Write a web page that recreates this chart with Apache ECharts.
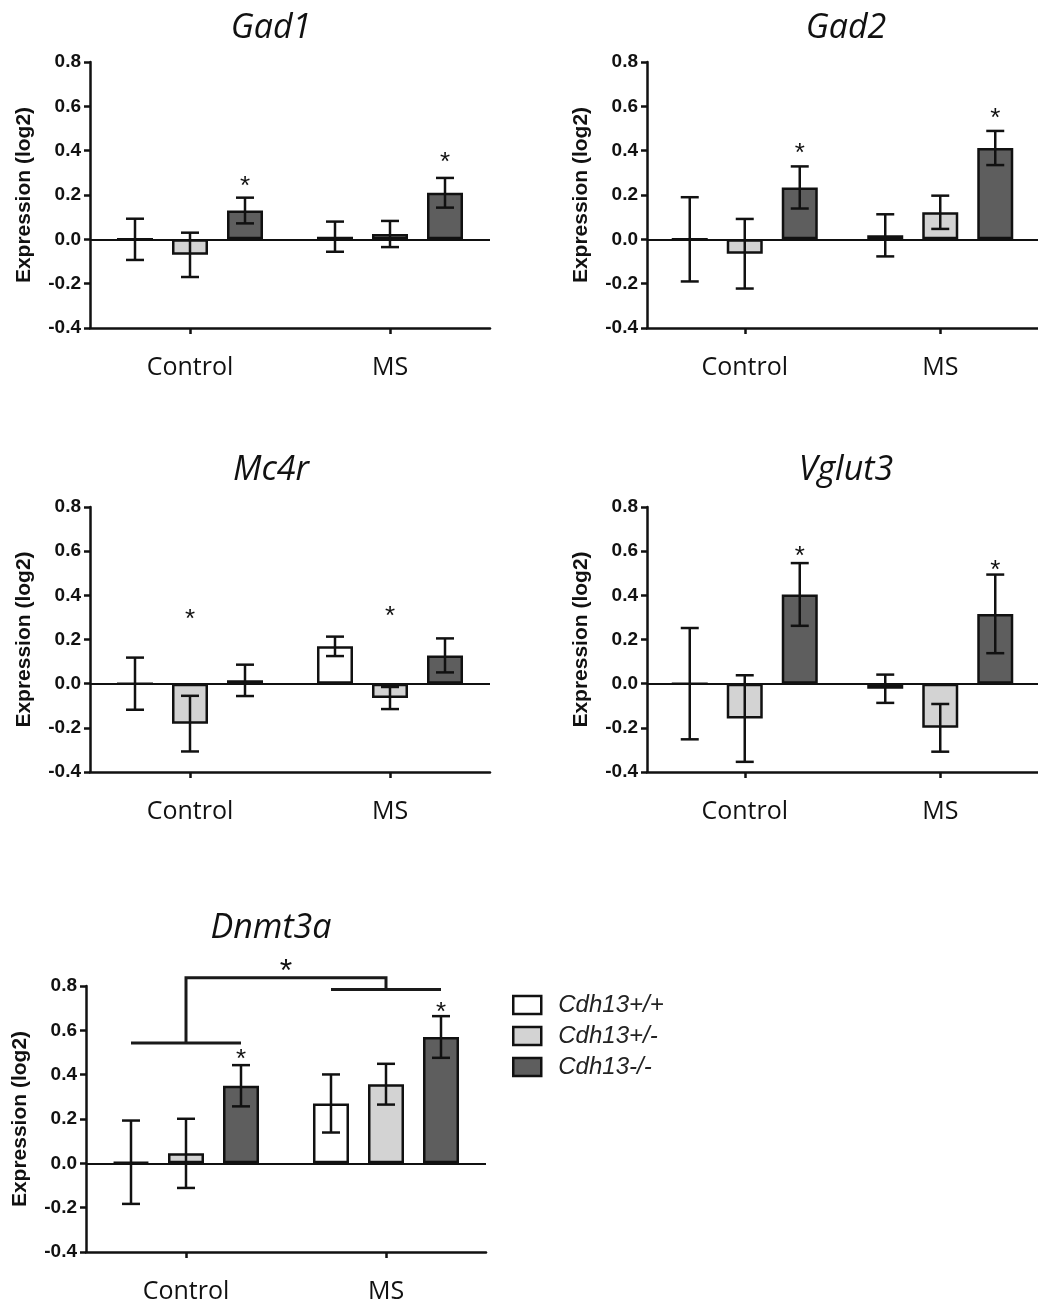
<!DOCTYPE html>
<html>
<head>
<meta charset="utf-8">
<script src="https://cdn.jsdelivr.net/npm/echarts@6/dist/echarts.min.js"></script>
<style>
  html, body { margin: 0; padding: 0; background: #fff; }
  #chart { width: 1038px; height: 1311px; }
</style>
</head>
<body>
<div id="chart"></div>
<script>
// ---- data ----
const groups = ['Control', 'MS'];
const genotypes = ['Cdh13+/+', 'Cdh13+/-', 'Cdh13-/-'];
const yTickValues = [-0.4, -0.2, 0.0, 0.2, 0.4, 0.6, 0.8];

// mean[genotype][group], sem[genotype][group]; stars: [genotype, group, y]
const gad1Mean = [[0.00, 0.012], [-0.07, 0.024], [0.13, 0.21]];
const gad1Sem = [[0.093, 0.068], [0.10, 0.059], [0.058, 0.067]];
const gad1Stars = [[2, 0, 0.264], [2, 1, 0.371]];

const gad2Mean = [[0.00, 0.018], [-0.065, 0.122], [0.234, 0.412]];
const gad2Sem = [[0.19, 0.095], [0.157, 0.075], [0.095, 0.077]];
const gad2Stars = [[2, 0, 0.414], [2, 1, 0.569]];

const mc4rMean = [[0.00, 0.169], [-0.181, -0.065], [0.015, 0.128]];
const mc4rSem = [[0.118, 0.044], [0.126, 0.05], [0.071, 0.077]];
const mc4rStars = [[1, 0, 0.317], [1, 1, 0.332]];

const vglut3Mean = [[0.00, -0.023], [-0.158, -0.20], [0.404, 0.316]];
const vglut3Sem = [[0.252, 0.064], [0.196, 0.108], [0.142, 0.178]];
const vglut3Stars = [[2, 0, 0.602], [2, 1, 0.538]];

const dnmt3aMean = [[0.005, 0.27], [0.045, 0.357], [0.35, 0.57]];
const dnmt3aSem = [[0.188, 0.131], [0.156, 0.092], [0.093, 0.094]];
const dnmt3aStars = [[2, 0, 0.492], [2, 1, 0.708]];
// Control-vs-MS bracket: [Control level, top level, MS level, star level]
const dnmt3aBracket = [0.543, 0.837, 0.784, 0.892];

// ---- styling ----
const FILLS = ['#ffffff', '#d3d3d3', '#5e5e5e'];
const INK = '#111111';
const BAR_W = 36;
const BAR_GAP = 19;
const CAP_W = 18;
const LINE_W = 2.5;
const SANS = 'Liberation Sans, Arial, sans-serif';
const HUMANIST = 'Open Sans, sans-serif';

const panels = [
  { name: 'Gad1',   mean: gad1Mean,   sem: gad1Sem,   stars: gad1Stars,   left: 90,  top: 62,  height: 266, titleX: 266, titleTop: 6 },
  { name: 'Gad2',   mean: gad2Mean,   sem: gad2Sem,   stars: gad2Stars,   left: 647, top: 62,  height: 266, titleX: 841, titleTop: 6 },
  { name: 'Mc4r',   mean: mc4rMean,   sem: mc4rSem,   stars: mc4rStars,   left: 90,  top: 507, height: 265, titleX: 266, titleTop: 448 },
  { name: 'Vglut3', mean: vglut3Mean, sem: vglut3Sem, stars: vglut3Stars, left: 647, top: 507, height: 265, titleX: 841, titleTop: 448 },
  { name: 'Dnmt3a', mean: dnmt3aMean, sem: dnmt3aSem, stars: dnmt3aStars, left: 86,  top: 986, height: 266, titleX: 266, titleTop: 906 }
];

function barOffset(k) { return (k - 1) * (BAR_W + BAR_GAP); }

function renderErrorBar(params, api) {
  const g = api.value(0), k = api.value(1), m = api.value(2), e = api.value(3);
  const hi = api.coord([g, m + e]);
  const lo = api.coord([g, m - e]);
  const x = hi[0] + barOffset(k);
  const h = CAP_W / 2;
  const style = { stroke: INK, lineWidth: LINE_W };
  return {
    type: 'group',
    children: [
      { type: 'line', shape: { x1: x, y1: hi[1], x2: x, y2: lo[1] }, style },
      { type: 'line', shape: { x1: x - h, y1: hi[1], x2: x + h, y2: hi[1] }, style },
      { type: 'line', shape: { x1: x - h, y1: lo[1], x2: x + h, y2: lo[1] }, style }
    ]
  };
}

function renderStar(params, api) {
  const k = api.value(0), g = api.value(1), y = api.value(2);
  const p = api.coord([g, y]);
  return {
    type: 'text',
    style: {
      text: '*', x: p[0] + barOffset(k), y: p[1] + 6,
      fill: INK, font: '26px ' + SANS, align: 'center', verticalAlign: 'middle'
    }
  };
}

function renderBracket(params, api) {
  const ctrlLow = api.coord([0, api.value(0)]);
  const ctrlTop = api.coord([0, api.value(1)]);
  const msTop = api.coord([1, api.value(1)]);
  const msLow = api.coord([1, api.value(2)]);
  const starY = api.coord([0, api.value(3)])[1];
  const d = BAR_W + BAR_GAP;
  const style = { stroke: '#1a1a1a', lineWidth: 3, fill: null };
  return {
    type: 'group',
    children: [
      { type: 'polyline', shape: { points: [[ctrlLow[0] - d, ctrlLow[1]], [ctrlLow[0] + d, ctrlLow[1]]] }, style },
      { type: 'polyline', shape: { points: [[ctrlLow[0], ctrlLow[1]], [ctrlTop[0], ctrlTop[1]], [msTop[0], msTop[1]], [msLow[0], msLow[1]]] }, style },
      { type: 'polyline', shape: { points: [[msLow[0] - d, msLow[1]], [msLow[0] + d, msLow[1]]] }, style },
      { type: 'text', style: { text: '*', x: (ctrlTop[0] + msTop[0]) / 2, y: starY + 7, fill: INK,
        font: '32px ' + SANS, align: 'center', verticalAlign: 'middle' } }
    ]
  };
}

const grid = [], xAxis = [], yAxis = [], title = [], series = [];

panels.forEach((p, i) => {
  grid.push({ left: p.left, top: p.top, width: 400, height: p.height, containLabel: false });
  title.push({
    text: p.name, left: p.titleX, top: p.titleTop, textAlign: 'center',
    textStyle: { fontFamily: HUMANIST, fontStyle: 'italic', fontWeight: 'normal', fontSize: 34, color: INK }
  });
  xAxis.push({
    type: 'category', gridIndex: i, data: groups, boundaryGap: true,
    axisLine: { show: true, onZero: false, lineStyle: { color: INK, width: LINE_W } },
    axisTick: { show: true, alignWithLabel: true, length: 6, lineStyle: { color: INK, width: LINE_W } },
    axisLabel: { interval: 0, margin: 27, fontFamily: HUMANIST, fontSize: 25, color: INK },
    splitLine: { show: false }
  });
  yAxis.push({
    type: 'value', gridIndex: i,
    min: yTickValues[0], max: yTickValues[yTickValues.length - 1],
    interval: yTickValues[1] - yTickValues[0],
    name: 'Expression (log2)', nameLocation: 'middle', nameGap: 55,
    nameTextStyle: { fontFamily: SANS, fontWeight: 'bold', fontSize: 21, color: INK },
    axisLine: { show: true, lineStyle: { color: INK, width: LINE_W } },
    axisTick: { show: true, length: 6, lineStyle: { color: INK, width: LINE_W } },
    axisLabel: {
      margin: 9, fontFamily: SANS, fontWeight: 'bold', fontSize: 19, color: INK,
      formatter: v => (Math.abs(v) < 1e-9 ? 0 : v).toFixed(1)
    },
    splitLine: { show: false }
  });

  genotypes.forEach((gt, k) => {
    const s = {
      name: gt, type: 'bar', xAxisIndex: i, yAxisIndex: i,
      data: p.mean[k], barWidth: BAR_W, barGap: (BAR_GAP / BAR_W * 100).toFixed(1) + '%',
      itemStyle: { color: FILLS[k], borderColor: INK, borderWidth: LINE_W },
      z: 2
    };
    if (k === 0) {
      s.markLine = {
        silent: true, symbol: 'none', label: { show: false }, animation: false,
        lineStyle: { color: INK, width: 1.8, type: 'solid' },
        data: [{ yAxis: 0 }]
      };
    }
    series.push(s);
  });

  const errData = [];
  p.mean.forEach((row, k) => row.forEach((m, g) => errData.push([g, k, m, p.sem[k][g]])));
  series.push({
    type: 'custom', xAxisIndex: i, yAxisIndex: i, renderItem: renderErrorBar,
    data: errData, encode: { x: 0, y: 2 }, z: 5, silent: true
  });
  series.push({
    type: 'custom', xAxisIndex: i, yAxisIndex: i, renderItem: renderStar,
    data: p.stars, encode: { x: 1, y: 2 }, z: 5, silent: true
  });
});

series.push({
  type: 'custom', xAxisIndex: 4, yAxisIndex: 4, renderItem: renderBracket,
  data: [dnmt3aBracket], encode: { x: -1, y: 1 }, z: 6, silent: true, clip: false
});

const chart = echarts.init(document.getElementById('chart'), null, { renderer: 'canvas' });
chart.setOption({
  animation: false,
  backgroundColor: '#ffffff',
  title, grid, xAxis, yAxis, series,
  legend: {
    data: genotypes, orient: 'vertical', left: 512, top: 993, padding: 0,
    icon: 'rect', itemWidth: 28, itemHeight: 18, itemGap: 7,
    selectedMode: false,
    itemStyle: { borderColor: INK, borderWidth: LINE_W },
    textStyle: { fontFamily: SANS, fontStyle: 'italic', fontSize: 24, color: '#222', padding: [0, 0, 0, 12] }
  }
});
</script>
</body>
</html>
